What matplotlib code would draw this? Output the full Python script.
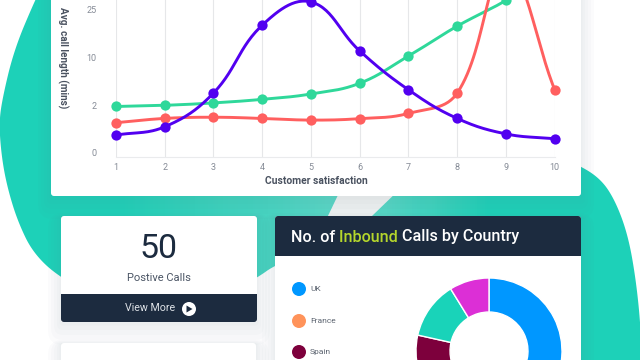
import numpy as np
import matplotlib
matplotlib.use('Agg')
import matplotlib.pyplot as plt
from matplotlib.colors import LinearSegmentedColormap
from matplotlib.patches import Circle, FancyBboxPatch, PathPatch, Polygon, Rectangle
from matplotlib.path import Path

plt.rcParams['font.family'] = ['Roboto', 'DejaVu Sans']

W, H = 640, 360

# line chart data
satisfaction = [1, 2, 3, 4, 5, 6, 7, 8, 9, 10]
green_vals = [1.95, 2.0, 2.4, 3.0, 3.9, 5.7, 10.5, 19.9, 28, 38]
red_vals = [1.27, 1.45, 1.5, 1.45, 1.38, 1.44, 1.66, 4.06, 38, 4.6]
purple_vals = [0.75, 1.1, 4.06, 20.2, 27.5, 12.1, 4.6, 1.45, 0.8, 0.6]
y_ticks = [0, 2, 10, 25]

# donut data (hidden part of the ring is estimated)
countries = ['UK', 'France', 'Spain']
country_colors = ['#0097ff', '#ff935a', '#7d003c']
donut_vals = [35, 28, 15.5, 12.7, 8.8]
donut_colors = ['#0097ff', '#ff935a', '#7d003c', '#19d3b9', '#dc2fd6']

DARK = '#1c2b3f'

# y axis is not linear, the ticks are evenly spaced
knots_data = [-2, 0, 2, 10, 25, 100]
knots_pos = [-1, 0, 1, 2, 3, 8]


def fwd(v):
    return np.interp(v, knots_data, knots_pos)


def inv(v):
    return np.interp(v, knots_pos, knots_data)


def smooth(xs, ys, t=0.4, n=30):
    # same bezier smoothing as chart.js, done in roughly pixel space
    px = np.array(xs, float) * 48.7
    py = fwd(np.array(ys, float)) * 47.7
    out_x, out_y = [], []
    for i in range(len(px) - 1):
        a = i - 1 if i > 0 else i
        d = i + 2 if i + 2 < len(px) else i + 1
        p0 = np.array([px[i], py[i]])
        p3 = np.array([px[i + 1], py[i + 1]])
        prev = np.array([px[a], py[a]])
        nxt = np.array([px[d], py[d]])
        d0 = np.hypot(*(p0 - prev))
        d1 = np.hypot(*(p3 - p0))
        d2 = np.hypot(*(nxt - p3))
        c1 = p0 + t * d1 / max(d0 + d1, 1e-6) * (p3 - prev)
        c2 = p3 - t * d1 / max(d1 + d2, 1e-6) * (nxt - p0)
        s = np.linspace(0, 1, n)[:, None]
        c = (1 - s) ** 3 * p0 + 3 * (1 - s) ** 2 * s * c1 + 3 * (1 - s) * s ** 2 * c2 + s ** 3 * p3
        out_x.extend(c[:, 0] / 48.7)
        out_y.extend(c[:, 1] / 47.7)
    return np.array(out_x), inv(np.array(out_y))


def chaikin(pts, rounds=4):
    # rounds the corners of a closed outline
    p = np.array(pts, float)
    for _ in range(rounds):
        q = np.roll(p, -1, axis=0)
        p = np.column_stack([0.75 * p + 0.25 * q, 0.25 * p + 0.75 * q]).reshape(-1, 2)
    return [tuple(v) for v in p]


def rect_ax(fig, x0, y0, x1, y1):
    # pixel box with y going down
    return fig.add_axes([x0 / W, 1 - y1 / H, (x1 - x0) / W, (y1 - y0) / H])


fig = plt.figure(figsize=(6.4, 3.6), dpi=100, facecolor='white')

# background layer in pixel coordinates
bg = fig.add_axes([0, 0, 1, 1], zorder=0)
bg.set_xlim(0, W)
bg.set_ylim(H, 0)
bg.axis('off')

# stripe between the two teal shapes is a pale grey, not white
bg.add_patch(Polygon([(320, 185), (420, 185), (360, 230), (310, 230)], fc='#f1f3f4', ec='none', zorder=0.5))

stops = [(0, '#1dd1b8'), (120 / W, '#1fd1b9'), (340 / W, '#5bdac8'), (388 / W, '#54d9c6'), (490 / W, '#1dd1b8'), (1, '#1dd1b8')]
cmap = LinearSegmentedColormap.from_list('teal', stops)
im = bg.imshow(np.linspace(0, 1, 640)[None, :], cmap=cmap, extent=(0, W, H, 0), aspect='auto', zorder=1)

# the corners of the stripe edges sit behind the cards
left_blob = chaikin([(50, -30), (35, 0), (14, 50), (2, 100), (-1, 125), (2, 160), (8, 190), (18, 222), (33, 253), (60, 278),
                     (120, 310), (200, 310), (257, 278), (275, 265), (310, 252), (328, 216), (337, 197), (360, 150), (360, -30)])
right_blob = chaikin([(440, 150), (500, 130), (575, 163), (600, 178), (615, 200), (628, 235), (636, 280), (641, 330), (642, 380),
                      (560, 380), (560, 250), (337, 250), (373, 215), (391.7, 197)])
verts = left_blob + [left_blob[0]] + right_blob + [right_blob[0]]
codes = [Path.MOVETO] + [Path.LINETO] * (len(left_blob) - 1) + [Path.CLOSEPOLY]
codes += [Path.MOVETO] + [Path.LINETO] * (len(right_blob) - 1) + [Path.CLOSEPOLY]
blob = PathPatch(Path(verts, codes), transform=bg.transData, facecolor='none', edgecolor='none')
bg.add_patch(blob)
im.set_clip_path(blob)


def card(x0, y0, x1, y1, color='white', z=3, shadow=True):
    if shadow:
        for grow, off in zip([26, 20, 14, 8, 3], [10, 8, 6, 4, 2]):
            bg.add_patch(FancyBboxPatch((x0 - grow / 2, y0 - grow / 2 + off), x1 - x0 + grow, y1 - y0 + grow,
                                        boxstyle='round,pad=0,rounding_size=%d' % (grow / 2 + 2), fc='#6b7a8c', ec='none',
                                        alpha=0.022, zorder=2))
    bg.add_patch(FancyBboxPatch((x0, y0), x1 - x0, y1 - y0, boxstyle='round,pad=0,rounding_size=3',
                                fc=color, ec='none', zorder=z))


card(51, -20, 581, 196)
card(61, 216, 257, 322)
card(61, 343, 256, 400)
card(275, 216, 581, 400)

# footer of the small card
bg.add_patch(FancyBboxPatch((61, 298), 196, 24, boxstyle='round,pad=0,rounding_size=3', fc=DARK, ec='none', zorder=4))
bg.add_patch(Rectangle((61, 294), 196, 10, fc=DARK, ec='none', zorder=4))
bg.text(158.5, 249, '50', fontsize=24.5, color=DARK, ha='center', va='center', zorder=5)
bg.text(158.5, 278, 'Postive Calls', fontsize=8, color='#4b5565', ha='center', va='center', zorder=5)
bg.text(150.5, 308, 'View More', fontsize=7.7, color='#dfe3e8', ha='center', va='center', zorder=5)
bg.add_patch(Circle((189, 309), 7, fc='white', ec='none', zorder=5))
bg.add_patch(Polygon([(186.5, 305.5), (186.5, 312.5), (192.5, 309)], fc=DARK, ec='none', zorder=6))

# header of the country card
bg.add_patch(FancyBboxPatch((275, 216), 306, 20, boxstyle='round,pad=0,rounding_size=3', fc=DARK, ec='none', zorder=4))
bg.add_patch(Rectangle((275, 226), 306, 30, fc=DARK, ec='none', zorder=4))
fig.canvas.draw()
rend = fig.canvas.get_renderer()
x = 291
for part, col in [('No. of ', 'white'), ('Inbound ', '#b5d62c'), ('Calls by Country', 'white')]:
    t = bg.text(x, 237, part.replace(' ', '\u00a0'), fontsize=11.6, fontweight='medium', color=col, ha='left', va='center', zorder=5)
    x += t.get_window_extent(rend).width

for name, col, yy in zip(countries, country_colors, [289, 321, 352]):
    bg.add_patch(Circle((299, yy), 7, fc=col, ec='none', zorder=5))
    bg.text(310, yy, name, fontsize=6, color='#5c6470', ha='left', va='center', zorder=5)

# line chart
ax = rect_ax(fig, 116, 0, 554.7, 157)
ax.set_zorder(2)
ax.patch.set_alpha(0)
ax.set_yscale('function', functions=(fwd, inv))
ax.set_xlim(1, 10)
ax.set_ylim(inv(-0.084), inv(3.208))
for vals, col in [(green_vals, '#2fd89a'), (red_vals, '#ff5f5f'), (purple_vals, '#5200f0')]:
    sx, sy = smooth(satisfaction, vals)
    ax.plot(sx, sy, color=col, lw=2.1, clip_on=False, solid_capstyle='round', zorder=3)
    ax.plot(satisfaction, vals, 'o', color=col, ms=7.4, mec='none', clip_on=False, zorder=4)
ax.set_xticks(satisfaction)
ax.set_yticks(y_ticks)
ax.set_yticklabels([str(v) for v in y_ticks])
ax.minorticks_off()
ax.grid(True, axis='x', color='#e6e7e9', lw=0.8, zorder=0)
ax.tick_params(axis='both', length=0, labelsize=6.5, labelcolor='#858b96')
ax.tick_params(axis='x', pad=4)
ax.tick_params(axis='y', pad=14)
for s in ['top', 'right', 'left']:
    ax.spines[s].set_visible(False)
ax.spines['bottom'].set_color('#eaebed')
ax.spines['bottom'].set_linewidth(0.8)

bg.text(316, 181, 'Customer satisfaction', fontsize=7.4, fontweight='bold', color='#4a5260', ha='center', va='center', zorder=5)
bg.text(63, 58, 'Avg. call length (mins)', fontsize=7.2, fontweight='bold', color='#4a5260', rotation=-90, ha='center', va='center', zorder=5)

# donut, runs past the bottom edge like the original
dax = rect_ax(fig, 416, 278, 562, 424)
dax.set_zorder(2)
dax.pie(donut_vals, colors=donut_colors, startangle=90, counterclock=False, radius=1,
        wedgeprops={'width': 0.466, 'edgecolor': 'white', 'linewidth': 1.0})
dax.set_xlim(-1, 1)
dax.set_ylim(-1, 1)

fig.savefig('out.png', dpi=100)
